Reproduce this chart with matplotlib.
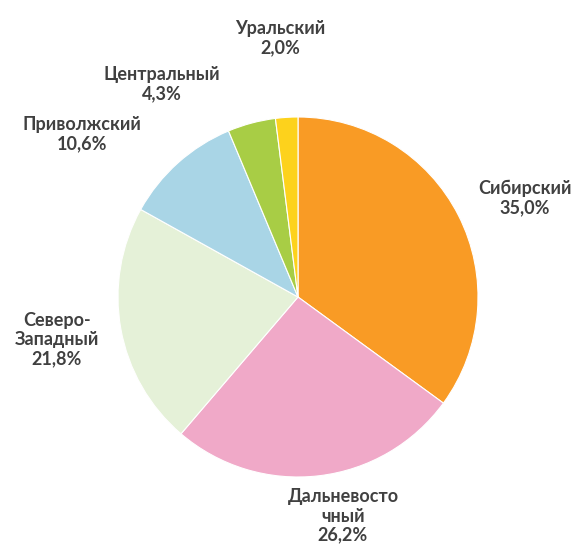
import matplotlib
matplotlib.use("Agg")
import matplotlib.pyplot as plt

# Доли федеральных округов, %
regions = ["Сибирский", "Дальневосто\nчный", "Северо-\nЗападный",
           "Приволжский", "Центральный", "Уральский"]
shares = [35.0, 26.2, 21.8, 10.6, 4.3, 2.0]
colors = ["#F99B25", "#F0A9C8", "#E5F1D8", "#A9D5E6", "#A8CD45", "#FDD21C"]

# центры подписей в пикселях (x, y сверху)
label_xy = [(525, 198), (343, 516), (57, 340), (82, 134), (162, 84), (280, 38)]

W, H = 574, 553
fig = plt.figure(figsize=(W / 100, H / 100), dpi=100)
ax = fig.add_axes([0, 0, 1, 1])

cx, cy, r = 298, 297, 180
ax.pie(shares, colors=colors, startangle=90, counterclock=False,
       center=(cx, H - cy), radius=r,
       wedgeprops=dict(edgecolor="white", linewidth=0.8))

for name, val, (x, y) in zip(regions, shares, label_xy):
    txt = f"{name}\n{val:.1f}%".replace(".", ",")
    ax.text(x, H - y, txt, ha="center", va="center", fontsize=13,
            fontweight="bold", family="Lato", color="#404040",
            linespacing=1.15)

ax.set_xlim(0, W)
ax.set_ylim(0, H)
ax.set_aspect("equal")
ax.axis("off")
fig.savefig("out.png", dpi=100, facecolor="white")
